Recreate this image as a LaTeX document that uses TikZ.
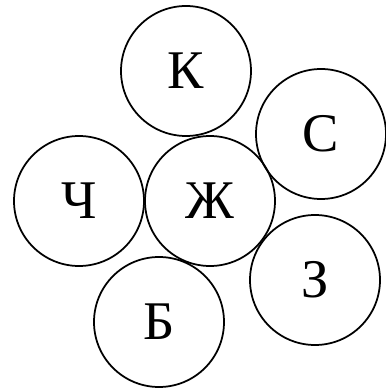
\documentclass[tikz,border=0pt]{standalone}
\usepackage{fontspec}
\setmainfont{Liberation Serif}
\tikzset{
  ring/.style={draw, circle, line width=1pt, minimum size=2.6cm, inner sep=0pt,
    font=\fontsize{31}{33}\selectfont}
}
\begin{document}
\begin{tikzpicture}
  \useasboundingbox (0,0) rectangle (7.7,7.82);
  % top row
  \node[ring] (k) at (3.72,6.40) {К};
  \node[ring] (s) at (6.42,5.14) {С};
  % middle row
  \node[ring] (ch) at (1.58,3.80) {Ч};
  \node[ring] (zh) at (4.20,3.80) {Ж};
  % bottom row
  \node[ring] (z) at (6.30,2.22) {З};
  \node[ring] (b) at (3.18,1.38) {Б};
\end{tikzpicture}
\end{document}
